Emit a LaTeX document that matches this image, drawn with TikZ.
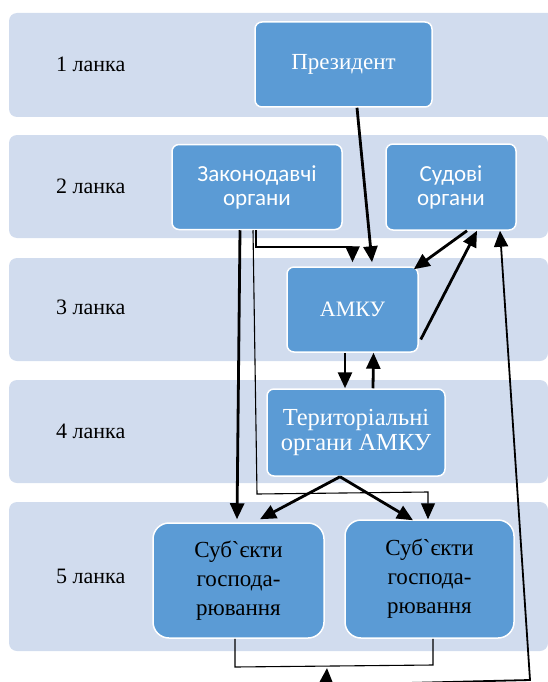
\documentclass[tikz,border=0pt]{standalone}
\usepackage{fontspec}
\setmainfont{Liberation Serif}[Ligatures=TeXOff]
\newfontfamily\calib{Carlito}
\usetikzlibrary{arrows.meta,calc}
\definecolor{band}{RGB}{209,220,238}
\definecolor{boxblue}{RGB}{91,155,213}
\tikzset{
  bandbox/.style={fill=band,draw=none,rounded corners=8pt},
  unit/.style={fill=boxblue,draw=white,line width=1.5pt,rounded corners=7pt,align=center,inner sep=0pt},
  subj/.style={unit,rounded corners=16pt,text=black,font=\fontsize{23}{29}\selectfont},
  wtimes/.style={text=white,font=\fontsize{23}{25}\selectfont},
  wsans/.style={text=white,font=\calib\fontsize{23}{24}\selectfont},
  rowlabel/.style={anchor=base west,font=\fontsize{22}{26}\selectfont,inner sep=0pt},
  thk/.style={line width=2.8pt},
  thn/.style={line width=1.1pt},
  arr/.style={-{Triangle[length=16pt,width=14pt]}},
}
\begin{document}
\begin{tikzpicture}[x=1pt,y=-1pt]
\useasboundingbox (0,0) rectangle (548,682);
\begin{scope}
\clip (0,0) rectangle (548,682);
% bands
\fill[bandbox] (9,13) rectangle (556,117);
\fill[bandbox] (9,135) rectangle (548,238);
\fill[bandbox] (9,258) rectangle (548,361);
\fill[bandbox] (9,380) rectangle (548,483);
\fill[bandbox] (9,502) rectangle (548,651);
% row labels
\node[rowlabel] (l1) at (56,72) {1 ланка};
\node[rowlabel] (l2) at (56,193) {2 ланка};
\node[rowlabel] (l3) at (56,314) {3 ланка};
\node[rowlabel] (l4) at (56,438) {4 ланка};
\node[rowlabel] (l5) at (56,583) {5 ланка};
% units
\node[unit,wtimes,minimum width=177pt,minimum height=85pt] (pres) at (343.5,64.5) {Президент};
\node[unit,wsans,minimum width=170pt,minimum height=85pt] (zak) at (257,187) {Законодавчі\\органи};
\node[unit,wsans,minimum width=130pt,minimum height=86pt] (sud) at (451,187) {Судові\\органи};
\node[unit,wtimes,font=\fontsize{22}{25}\selectfont,minimum width=131pt,minimum height=85pt] (amku) at (352.5,309.5) {АМКУ};
\node[unit,wtimes,font=\fontsize{24.5}{25}\selectfont,minimum width=178pt,minimum height=87pt] (ter) at (356,432.5) {Територіальні\\органи АМКУ};
\node[subj,minimum width=171pt,minimum height=115pt] (subL) at (238.5,580.5) {Суб`єкти\\господа-\\рювання};
\node[subj,minimum width=169pt,minimum height=118pt] (subR) at (429.5,579) {Суб`єкти\\господа-\\рювання};
% helper coordinates
\coordinate (bend1) at (352.5,247);
\coordinate (t1) at (257,494);
\coordinate (t2) at (428,492);
\coordinate (bl) at (235,667);
\coordinate (br) at (433,665);
\coordinate (bot) at (326,685);
\coordinate (botr) at (530,680);
% connectors
\draw[thk,arr] ([xshift=13.5pt]pres.south) -- ([xshift=19.5pt,yshift=4pt]amku.north);
\draw[thk,arr] ([xshift=-1pt]zak.south) |- (bend1) -- ([yshift=4pt]amku.north);
\draw[thk,arr] ([xshift=-17pt]zak.south) -- ([xshift=-1.5pt,yshift=3pt]subL.north);
\draw[thn,arr] ([xshift=-4pt]zak.south) -- (t1) -- (t2) -- ([xshift=-1.5pt]subR.north);
\draw[thk,arr] ([xshift=16pt]sud.south) -- ([xshift=-5pt,yshift=-3pt]amku.north east);
\draw[thk,arr] ([xshift=2pt,yshift=-30pt]amku.east) -- ([xshift=26pt]sud.south);
\draw[line width=1.8pt,arr] (bot) -- (botr) -- ([xshift=49pt]sud.south);
\draw[thk,arr] ([xshift=-7.5pt]amku.south) -- ([xshift=-11pt]ter.north);
\draw[thk,arr] ([xshift=17pt]ter.north) -- ([xshift=21pt]amku.south);
\draw[thk,arr] ([xshift=-16pt]ter.south) -- ([xshift=21.5pt,yshift=3pt]subL.north);
\draw[thk,arr] ([xshift=-16pt]ter.south) -- ([xshift=-16.5pt,yshift=-1pt]subR.north);
\draw[thn] ([xshift=-3.5pt]subL.south) -- (bl) -- (br) -- ([xshift=3.5pt]subR.south);
\draw[thk,arr] (bot) -- (327,668);
\end{scope}
\end{tikzpicture}
\end{document}
